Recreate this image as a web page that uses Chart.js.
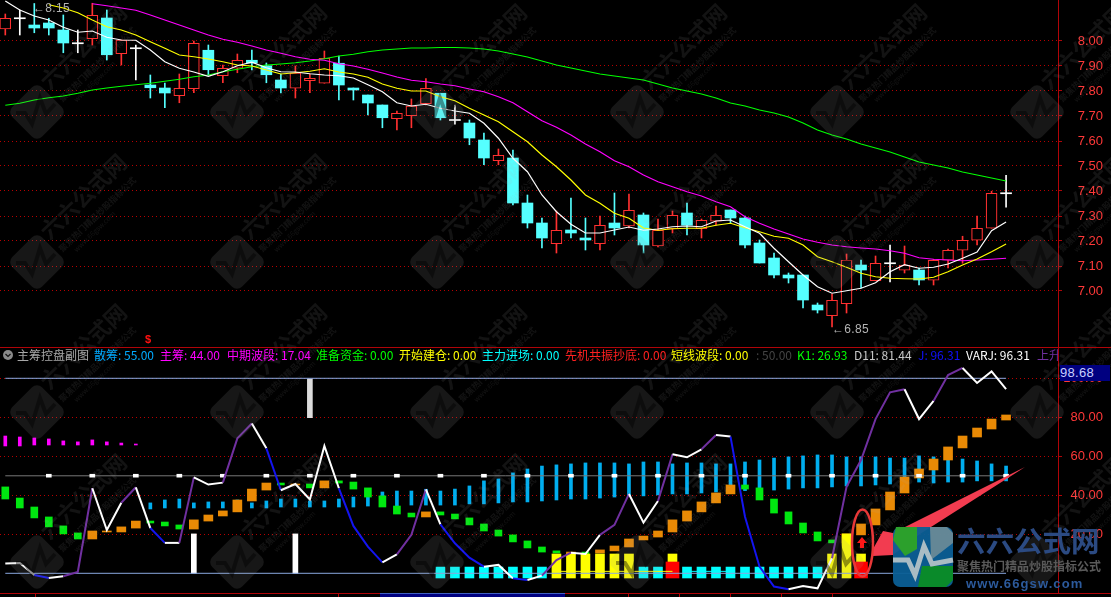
<!DOCTYPE html>
<html><head><meta charset="utf-8">
<script src="https://cdn.jsdelivr.net/npm/chart.js@4/dist/chart.umd.min.js"></script>
<style>
html,body{margin:0;padding:0;background:#000;width:1111px;height:597px;overflow:hidden}
canvas{position:absolute;left:0}
#top{top:0}#bot{top:348px}
.h{position:absolute;white-space:nowrap;font:12px "Noto Sans CJK SC","Liberation Sans",sans-serif;line-height:14px}
#hdr{position:absolute;left:0;top:348px;width:1058px;height:15px;overflow:hidden}
#ov{position:absolute;left:0;top:0;pointer-events:none}
.rule{position:absolute;background:#b00408}
</style></head><body>
<canvas id="top" width="1111" height="347"></canvas>
<canvas id="bot" width="1111" height="245"></canvas>
<svg id="ov" width="1111" height="597" xmlns="http://www.w3.org/2000/svg"></svg>
<div class="rule" style="left:0;top:347px;width:1111px;height:1px"></div>
<div class="rule" style="left:0;top:593px;width:1111px;height:1px"></div>
<div id="hdr"></div>
<div id="notes"></div>
<script>
const priceTicks=[7.0,7.1,7.2,7.3,7.4,7.5,7.6,7.7,7.8,7.9,8.0];
const oscTicks=[20,40,60,80,100];
const candleOpen=[8.048,8.091,8.064,8.072,8.044,7.991,8.009,8.092,7.949,7.971,7.824,7.812,7.781,7.809,7.963,7.861,7.891,7.923,7.901,7.844,7.811,7.841,7.831,7.911,7.812,7.784,7.744,7.689,7.701,7.749,7.791,7.684,7.672,7.604,7.521,7.532,7.352,7.272,7.189,7.244,7.212,7.189,7.272,7.26,7.304,7.18,7.248,7.312,7.249,7.279,7.324,7.292,7.192,7.132,7.064,7.064,6.944,6.901,6.949,7.104,7.041,7.111,7.083,7.084,7.043,7.123,7.163,7.203,7.251,7.391];
const candleClose=[8.091,8.091,8.052,8.052,7.992,7.991,8.103,7.945,8.004,7.971,7.813,7.792,7.811,7.991,7.885,7.891,7.923,7.912,7.865,7.812,7.872,7.851,7.931,7.824,7.804,7.752,7.693,7.711,7.74,7.811,7.693,7.684,7.612,7.532,7.543,7.352,7.272,7.212,7.243,7.232,7.204,7.263,7.252,7.323,7.184,7.243,7.303,7.263,7.283,7.303,7.292,7.184,7.112,7.064,7.052,6.964,6.924,6.963,7.123,7.084,7.111,7.111,7.104,7.044,7.123,7.163,7.203,7.251,7.391,7.391];
const candleHigh=[8.108,8.124,8.15,8.091,8.104,8.044,8.151,8.124,8.004,7.984,7.864,7.832,7.868,8.0,7.984,7.904,7.948,7.964,7.912,7.868,7.9,7.868,7.96,7.94,7.812,7.784,7.744,7.72,7.768,7.85,7.791,7.744,7.684,7.632,7.568,7.564,7.384,7.292,7.32,7.372,7.292,7.3,7.392,7.388,7.312,7.288,7.32,7.352,7.288,7.34,7.324,7.3,7.204,7.152,7.072,7.064,6.952,6.988,7.148,7.124,7.14,7.184,7.18,7.092,7.127,7.168,7.219,7.3,7.399,7.463];
const candleLow=[8.024,8.024,8.033,8.024,7.953,7.953,7.984,7.924,7.904,7.844,7.772,7.733,7.753,7.793,7.864,7.833,7.873,7.884,7.833,7.792,7.772,7.793,7.831,7.764,7.764,7.704,7.653,7.644,7.653,7.744,7.684,7.667,7.585,7.505,7.505,7.344,7.252,7.172,7.152,7.212,7.164,7.164,7.224,7.252,7.152,7.176,7.232,7.224,7.212,7.263,7.271,7.172,7.112,7.052,7.032,6.932,6.912,6.856,6.912,7.012,7.041,7.036,7.072,7.024,7.024,7.092,7.111,7.184,7.251,7.335];
const maWhite=[8.16,8.124,8.1,8.084,8.055,8.035,8.04,8.015,8.004,8.003,7.964,7.917,7.891,7.876,7.859,7.877,7.901,7.915,7.893,7.877,7.876,7.869,7.864,7.861,7.852,7.825,7.797,7.753,7.74,7.747,7.731,7.72,7.711,7.671,7.611,7.531,7.477,7.384,7.317,7.267,7.232,7.232,7.244,7.256,7.243,7.248,7.257,7.26,7.257,7.28,7.284,7.257,7.231,7.171,7.117,7.064,7.017,6.991,7.001,7.011,7.033,7.077,7.105,7.091,7.095,7.108,7.131,7.156,7.241,7.276];
const maYellow=[null,null,null,8.145,8.132,8.113,8.084,8.057,8.044,8.024,7.997,7.971,7.944,7.937,7.928,7.917,7.904,7.9,7.884,7.868,7.873,7.879,7.889,7.876,7.868,7.855,7.828,7.811,7.8,7.8,7.777,7.761,7.731,7.704,7.677,7.637,7.597,7.544,7.497,7.444,7.384,7.351,7.311,7.291,7.252,7.243,7.249,7.251,7.251,7.263,7.271,7.253,7.237,7.219,7.211,7.184,7.137,7.117,7.095,7.071,7.057,7.051,7.049,7.048,7.055,7.077,7.104,7.128,7.157,7.188];
const maMagenta=[null,null,null,null,null,null,8.149,8.141,8.132,8.123,8.104,8.084,8.064,8.044,8.024,8.007,7.995,7.98,7.964,7.951,7.937,7.927,7.923,7.909,7.9,7.887,7.872,7.856,7.843,7.837,7.828,7.821,7.808,7.797,7.777,7.753,7.717,7.681,7.655,7.624,7.588,7.557,7.521,7.497,7.464,7.437,7.417,7.397,7.38,7.357,7.337,7.297,7.271,7.248,7.228,7.208,7.195,7.184,7.177,7.172,7.168,7.161,7.151,7.133,7.127,7.124,7.121,7.124,7.127,7.131];
const maGreen=[7.743,7.751,7.764,7.773,7.78,7.791,7.804,7.812,7.819,7.825,7.831,7.839,7.847,7.857,7.864,7.877,7.887,7.897,7.904,7.908,7.913,7.92,7.929,7.94,7.947,7.957,7.964,7.968,7.972,7.972,7.974,7.974,7.972,7.968,7.96,7.948,7.936,7.92,7.904,7.892,7.88,7.868,7.86,7.852,7.844,7.828,7.812,7.8,7.788,7.772,7.752,7.74,7.724,7.712,7.696,7.672,7.644,7.624,7.608,7.588,7.572,7.556,7.536,7.516,7.504,7.492,7.476,7.464,7.452,7.44];

const jLine=[5.0,5.3,-0.9,-2.4,-1.5,0.7,43.6,22.2,36.2,44.1,23.2,15.6,15.6,49.2,45.5,46.5,69.2,76.8,64.1,42.6,45.8,37.9,65.3,43.6,24.3,13.7,5.6,9.7,19.7,43.1,25.1,15.4,8.0,3.4,4.3,-2.6,-3.4,-1.2,6.8,10.6,9.9,19.7,24.8,40.7,26,37.1,61,59.5,63.6,70.9,70.1,29,3.4,-6.8,-8.2,-6.5,-7.7,7.7,44.4,58.1,79.1,92.8,94.4,79.1,88.4,101.7,105.3,97.6,103.5,94.5];
const jSegments=['w','w','b','w','p','p','w','w','p','w','b','w','p','w','w','p','p','w','b','w','w','w','w','b','b','b','w','p','p','w','b','b','b','w','w','b','w','p','p','w','w','p','p','w','w','p','w','w','p','w','b','b','b','b','w','w','w','p','p','p','p','p','w','w','p','p','w','w','w'];

const chipIdx=[10,11,12,13,14,15,16,17,18,19,20,21,22,23,24,25,26,27,28,29,30,31,32,33,34,35,36,37,38,39,40,41,42,43,44,45,46,47,48,49,50,51,52,53,54,55,56,57,58,59,60,61,62,63,64,65,66,67,68,69];
const chipLow=[33,33.5,33.5,33.5,33.5,33.5,33.5,33.5,33.5,34,34,34,34,34,34,34.5,34.2,34.2,35,35,35,35,35.6,35.6,36.1,36.6,36.6,37.1,37.6,38.1,38.1,38.6,39.1,39.7,39.7,40.2,40.7,40.7,41.2,41.7,42.4,42.4,43.1,42.7,43.2,43.8,43.8,44.3,44.8,44.8,45.3,45.8,46.5,46.8,46.3,46.8,46.8,47.4,47.4,47.4];
const chipHigh=[36.1,37.6,38.1,36.1,36.6,36.6,37.6,36.1,37.1,38.1,38.1,37.1,37.1,38.1,39.1,39.1,41.7,42.2,42.2,43.1,42.2,43.2,44.8,47.4,48.4,51.5,53.5,55,55.6,56.1,56.6,56.6,56.6,56.1,57.1,57.1,56.1,56.6,56.6,56.1,56.1,57.1,58.1,59.1,59.7,60.2,60.7,60.7,59.7,59.7,59.7,59.1,59.1,60.2,59.7,59.1,58.6,57.6,56.1,55];

const mainIdx=[0,1,2,3,4,5,6,7,8,9];
const mainLow=[65.3,65.3,65.8,65.8,65.8,65.8,65.8,65.8,65.8,65.8];
const mainHigh=[70.4,69.9,69.4,68.9,67.9,67.4,68.4,67.4,66.8,66.3];

const greenIdx=[0,1,2,3,4,5,10,11,12,19,21,23,24,25,26,27,28,30,31,32,33,34,35,36,37,38,40,51,52,53,54,55,56,57];
const greenLow=[38.1,33.5,28.4,23.8,20.2,17.6,25.8,24.3,22.7,45.3,43.8,46.3,43.2,39.1,34,30.4,28.9,29.9,27.9,24.8,21.7,19.1,16.1,13,10.9,10.4,9.9,43.2,37.6,30.9,25.3,20.7,16.6,15.6];
const greenHigh=[44.3,38.6,34,28.9,24.3,20.7,26.8,26.3,24.8,46.3,45.8,47.4,46.8,43.8,39.7,34.5,30.9,31.5,30.4,28.4,25.3,22.2,19.7,16.6,13.5,11.5,10.9,45.3,43.8,38.1,31.5,25.8,21.2,17.1];

const orangeIdx=[6,7,8,9,13,14,15,16,17,18,20,22,29,39,41,42,43,44,45,46,47,48,49,50,58,59,60,61,62,63,64,65,66,67,68,69];
const orangeLow=[17.6,21.2,21.2,23.2,22.7,26.8,29.4,31.5,37.1,42.7,45.3,43.8,28.9,9.9,10.4,11.5,13.5,17.1,18.6,21.2,26.8,31.5,36.1,40.7,15.6,19.7,24.8,32.5,41.2,48.9,53,58.1,64.3,69.9,74,78.6];
const orangeHigh=[21.7,21.7,23.8,26.8,27.4,29.9,32,37.6,43.2,46.3,45.8,47.4,31.5,10.9,12,14,17.6,19.1,21.7,27.4,32,36.6,41.2,45.3,20.2,25.3,33,41.7,49.4,53.5,58.6,64.8,70.4,74.5,79.1,81.2];

const cyanIdx=[30,31,32,33,34,35,36,37,44,45,47,48,49,50,51,52,53,54,55,56];
const cyanLow=-2.4, cyanHigh=3.2;
const yellowIdx=[38,39,40,41,42,43,46,57,58,59];
const yellowLow=[-2.4,-2.4,-2.4,-2.4,-2.4,-2.4,5.8,-2.4,-2.4,5.8];
const yellowHigh=[9.9,9.9,9.9,9.9,9.9,9.9,9.9,9.9,20.2,9.9];
const redIdx=[46,59];
const redLow=-2.4, redHigh=5.8;
const whiteIdx=[13,20];
const whiteTop=20.2;
const greyIdx=[21];
const greyLow=79.8, greyHigh=99.7;
const dashIdx=[3,6,9,12,15,18,21,24,27,30,33,36,39,42,45,48,51,54,57,60,63,66,69];
const dashLow=49.3, dashHigh=50.8;
const levelHigh=100, levelMid=50, levelLow=0, signalLevel=1;
const yellowLineIdx=[38,46], cyanLineIdx=[47,50];
const lastIdx=69;

const legendItems=[["散筹: 55.00","#00aaff",94],["主筹: 44.00","#ff00ff",160],["中期波段: 17.04","#ff00ff",227],["准备资金: 0.00","#00ff00",316],["开始建仓: 0.00","#ffff00",399],["主力进场: 0.00","#00ffff",482],["先机共振抄底: 0.00","#ff2020",565],["短线波段: 0.00","#ffff00",671],[": 50.00","#444444",756],["K1: 26.93","#00ff00",797],["D11: 81.44","#c8c8c8",854],["J: 96.31","#1010ff",918],["VARJ: 96.31","#ffffff",966],["上升","#7030a0",1037]];

const C={red:'#ff3030',cyan:'#55ffff',white:'#ffffff'};
const xRange={type:'linear',display:false,offset:false,min:-0.365,max:72.58};
const pts=(idx,lo,hi)=>idx.map((x,i)=>({x,y:[Array.isArray(lo)?lo[i]:lo,Array.isArray(hi)?hi[i]:hi]}));
const lineOf=a=>a.map((y,x)=>({x,y}));
const bar=(label,data,color,w,order,extra={})=>Object.assign({type:'bar',label,data,backgroundColor:color,borderWidth:0,barThickness:w,grouped:false,order,borderSkipped:false},extra);
const line=(label,data,color,w,order,extra={})=>Object.assign({type:'line',label,data,borderColor:color,borderWidth:w,pointRadius:0,tension:0,fill:false,order,spanGaps:false},extra);
const yScale=(min,max,ticks)=>({type:'linear',position:'right',min,max,
  afterFit:s=>{s.width=45;s.paddingTop=0;s.paddingBottom=0},
  afterBuildTicks:s=>{s.ticks=ticks.map(v=>({value:v}))},
  border:{display:true,color:'#b00408',width:1,dash:[1,3]},
  grid:{color:'#b80000',lineWidth:1,tickColor:'#b00408',tickLength:4,tickBorderDash:[],drawTicks:true},
  ticks:{color:'#ff3838',font:{family:'"Liberation Sans"',size:13},crossAlign:'far',padding:0,autoSkip:false,callback:v=>v.toFixed(2)}});
const base=(y)=>({responsive:false,animation:false,devicePixelRatio:1,layout:{padding:{left:0,right:8,top:0,bottom:0}},
  plugins:{legend:{display:false},tooltip:{enabled:false}},events:[],scales:{x:xRange,y}});

const idxAll=candleOpen.map((_,i)=>i);
const kind=i=>candleClose[i]>candleOpen[i]?'red':(candleClose[i]<candleOpen[i]?'cyan':'white');
const bodyLo=i=>{const m=Math.min(candleOpen[i],candleClose[i]);return kind(i)==='white'?m-0.002:m};
const bodyHi=i=>{const m=Math.max(candleOpen[i],candleClose[i]);return kind(i)==='white'?m+0.002:m};

new Chart(document.getElementById('top'),{data:{datasets:[
  bar('wick',idxAll.map(i=>({x:i,y:[candleLow[i],candleHigh[i]]})),idxAll.map(i=>C[kind(i)]),1,10),
  bar('body',idxAll.map(i=>({x:i,y:[bodyLo(i),bodyHi(i)]})),idxAll.map(i=>kind(i)==='red'?'#000':C[kind(i)]),11,9,
     {borderColor:idxAll.map(i=>kind(i)==='red'?C.red:C[kind(i)]),borderWidth:idxAll.map(i=>kind(i)==='red'?1.2:0)}),
  line('MA60',lineOf(maGreen),'#00ff00',1.2,4),
  line('MA20',lineOf(maMagenta),'#ff00ff',1.2,3),
  line('MA10',lineOf(maYellow),'#ffff00',1.2,2),
  line('MA5',lineOf(maWhite),'#ffffff',1.2,1)
]},options:base(yScale(6.776,8.164,priceTicks))});

const segColor={w:'#ffffff',p:'#7030a0',b:'#1414f0'};
new Chart(document.getElementById('bot'),{data:{datasets:[
  bar('散筹',pts(chipIdx,chipLow,chipHigh),'#00aeef',3,20),
  bar('主筹',pts(mainIdx,mainLow,mainHigh),'#ff00ff',3,19),
  bar('green',pts(greenIdx,greenLow,greenHigh),'#00e810',7,18),
  bar('orange',pts(orangeIdx,orangeLow,orangeHigh),'#e98a05',9,17),
  bar('cyan',pts(cyanIdx,cyanLow,cyanHigh),'#00ffff',9,16),
  bar('yellow',pts(yellowIdx,yellowLow,yellowHigh),'#ffff00',9,15),
  bar('red',pts(redIdx,redLow,redHigh),'#ff0000',13,14),
  bar('whiteBar',pts(whiteIdx,levelLow,whiteTop),'#ffffff',5,13),
  bar('greyBar',pts(greyIdx,greyLow,greyHigh),'#dcdcdc',5,12),
  line('yellowLine',yellowLineIdx.map(x=>({x,y:signalLevel})),'#ffff00',1,11),
  line('cyanLine',cyanLineIdx.map(x=>({x,y:signalLevel})),'#00ffff',1,11),
  line('L100',[0,lastIdx].map(x=>({x,y:levelHigh})),'#8aa8e0',1,8),
  line('L50',[0,lastIdx].map(x=>({x,y:levelMid})),'#787878',1,8),
  line('L0',[0,lastIdx].map(x=>({x,y:levelLow})),'#8aa8e0',1,8),
  bar('dash',pts(dashIdx,dashLow,dashHigh),'#ffffff',5,7),
  line('J',lineOf(jLine),'#ffffff',2,1,{segment:{borderColor:c=>segColor[jSegments[c.p0DataIndex]]}})
]},options:base(yScale(-10.1,115.54,oscTicks))});

/* header texts */
const hdr=document.getElementById('hdr');
const addH=(t,c,x,parent,y=0,st='')=>{const d=document.createElement('div');d.className='h';d.textContent=t;d.style.cssText=`left:${x}px;top:${y}px;color:${c};${st}`;parent.appendChild(d);return d};
addH('主筹控盘副图','#a8a8a8',17,hdr);
legendItems.forEach(([t,c,x])=>addH(t,c,x,hdr));
const notes=document.getElementById('notes');
addH('←8.15','#b4b4b4',33,notes,1,'font:12px "Liberation Sans";letter-spacing:.3px');
addH('←6.85','#b4b4b4',832,notes,322,'font:12px "Liberation Sans";letter-spacing:.3px');
addH('$','#ff1010',145,notes,333,'font:bold 11px "Liberation Sans"');
addH('98.68','#c8d0ff',1060,notes,365,'background:#000080;width:50px;height:16px;font:13px/16px "Liberation Sans";letter-spacing:.3px');
[35,338,628,679,730,781,832].forEach(x=>{const d=document.createElement('div');d.className='rule';d.style.cssText=`left:${x}px;top:593px;width:1px;height:4px`;notes.appendChild(d)});
const box=document.createElement('div');box.style.cssText='position:absolute;left:380px;top:593px;width:185px;height:4px;background:#000080;border-top:1px solid #4060c0;box-sizing:border-box';notes.appendChild(box);

/* overlay: watermarks and callouts */
const NS='http://www.w3.org/2000/svg',ov=document.getElementById('ov');
const el=(n,a,t)=>{const e=document.createElementNS(NS,n);for(const k in a)e.setAttribute(k,a[k]);if(t)e.textContent=t;ov.appendChild(e);return e};
for(let gy=-38;gy<=562;gy+=150)for(let gx=37;gx<=1037;gx+=200){
  el('rect',{x:gx-21,y:gy-21,width:42,height:42,rx:7,fill:'#999',opacity:.15,transform:`rotate(45 ${gx} ${gy})`});
  el('polyline',{points:`${gx-21},${gy+1} ${gx-12},${gy+1} ${gx-5},${gy+12} ${gx+3},${gy-14} ${gx+9},${gy+2} ${gx+18},${gy-8}`,fill:'none',stroke:'#000',opacity:.4,'stroke-width':4});
  const tx=(dx,dy,size,str,w)=>el('text',{x:gx+dx,y:gy+dy,'font-size':size,'font-weight':w,'font-family':'"Noto Sans CJK SC"',fill:'#aaa',opacity:.11,'text-anchor':'middle','dominant-baseline':'middle',transform:`rotate(-44 ${gx+dx} ${gy+dy})`},str);
  tx(48,-64,22,'六六公式网',700);
  tx(61,-47,8.6,'聚焦热门精品炒股指标公式',700);
  tx(58,-30,7,'www.66gsw.com',400);
}
/* icon */
el('circle',{cx:8,cy:355,r:5,fill:'#8a8a8a'});
el('polyline',{points:'5.5,354 8,356.5 10.5,354',fill:'none',stroke:'#111','stroke-width':1.2});
el('polygon',{points:'1025,467 893,533 883,531 873,549 873,556 893,555 920,534',fill:'#f23c50'});
el('ellipse',{cx:862.5,cy:543,rx:10.5,ry:33.5,fill:'none',stroke:'#e83838','stroke-width':2.5});
el('polygon',{points:'862,537 867,543 864,543 864,548 860,548 860,543 857,543',fill:'#ff1818'});
/* logo */
el('rect',{x:893,y:527,width:60,height:60,rx:7,fill:'#0b5f96',opacity:.95});
el('polygon',{points:'896,527 917,527 917,549 905,556 893,540',fill:'#2ca02c'});
el('polygon',{points:'930,527 947,527 953,533 953,543 931,560',fill:'#8a9a9a',opacity:.7});
el('polygon',{points:'922,566 953,566 953,580 946,587 918,587',fill:'#0a8a2a'});
el('polyline',{points:'893,560 908,560 915,575 924,546 932,564 953,560',fill:'none',stroke:'#a9bcc4','stroke-width':5});
el('text',{x:957,y:552,'font-size':28.5,'font-weight':700,'font-family':'"Noto Sans CJK SC"',fill:'#2b4a82'},'六六公式网');
el('text',{x:957,y:571,'font-size':12,'font-weight':700,'font-family':'"Noto Sans CJK SC"',fill:'#5a5a5a'},'聚焦热门精品炒股指标公式');
el('text',{x:966,y:588,'font-size':13,'font-weight':700,'letter-spacing':1.1,'font-family':'"Liberation Sans"',fill:'#2c5a9c'},'www.66gsw.com');
</script>
</body></html>
